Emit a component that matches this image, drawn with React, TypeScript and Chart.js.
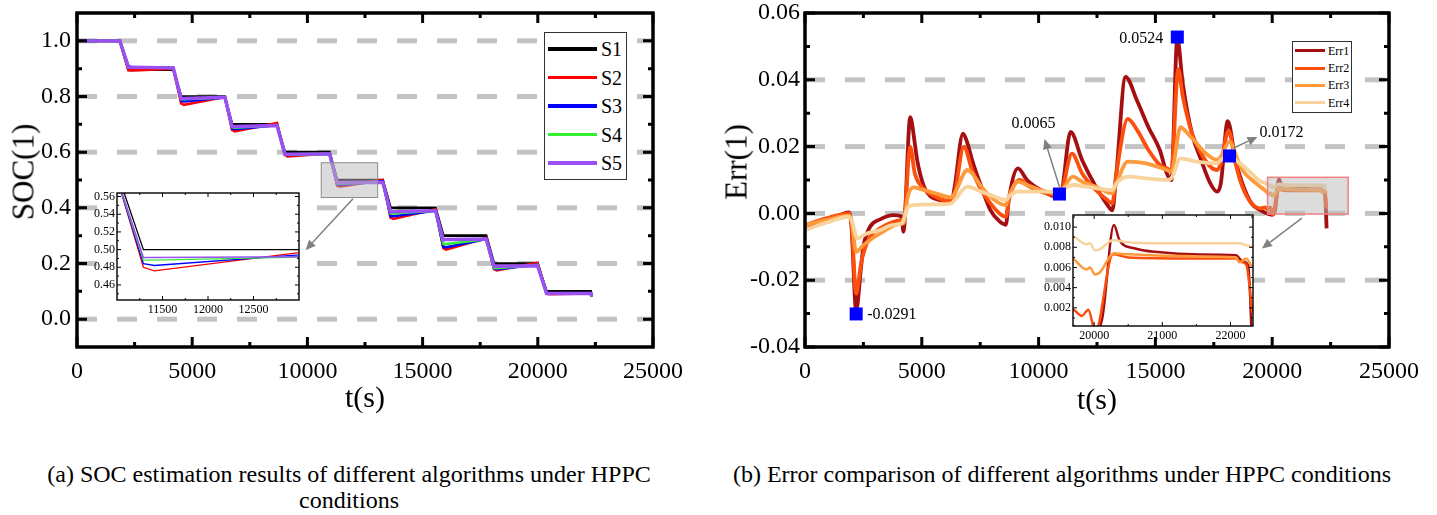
import React, { useEffect, useRef } from "react";
import { Chart, registerables } from "chart.js";

Chart.register(...registerables);

const SERIF = '"Liberation Serif", "Tinos", "Nimbus Roman", "Times New Roman", "DejaVu Serif", serif';

/* ---------------- (a) SOC estimation data ---------------- */
const socTime = [0, 1860, 2230, 2350, 4180, 4520, 4640, 6420, 6730, 6850, 8680, 9020, 9140, 10960, 11290, 11410, 13270, 13610, 13730, 15560, 15900, 16020, 17760, 18100, 18220, 19990, 20380, 20500, 22300, 22340];
const socS1 = [1.0, 1.0, 0.895, 0.895, 0.897, 0.8, 0.8, 0.8, 0.7, 0.7, 0.7, 0.6, 0.6, 0.6, 0.5, 0.5, 0.5, 0.4, 0.4, 0.4, 0.3, 0.3, 0.3, 0.2, 0.2, 0.2, 0.1, 0.1, 0.1, 0.085];
const socS2 = [1.0, 1.0, 0.895, 0.894, 0.9, 0.775, 0.77, 0.798, 0.68, 0.675, 0.705, 0.59, 0.585, 0.595, 0.48, 0.476, 0.5, 0.365, 0.36, 0.395, 0.255, 0.25, 0.292, 0.18, 0.175, 0.203, 0.092, 0.09, 0.092, 0.08];
const socS3 = [1.0, 1.0, 0.91, 0.905, 0.903, 0.785, 0.782, 0.797, 0.685, 0.683, 0.697, 0.592, 0.59, 0.594, 0.484, 0.482, 0.496, 0.37, 0.37, 0.39, 0.26, 0.258, 0.288, 0.182, 0.18, 0.196, 0.093, 0.092, 0.093, 0.08];
const socS4 = [1.0, 1.0, 0.905, 0.905, 0.903, 0.79, 0.79, 0.797, 0.69, 0.688, 0.697, 0.594, 0.592, 0.594, 0.488, 0.488, 0.492, 0.38, 0.38, 0.39, 0.27, 0.27, 0.287, 0.184, 0.183, 0.195, 0.093, 0.093, 0.093, 0.08];
const socS5 = [1.0, 1.0, 0.905, 0.905, 0.903, 0.792, 0.793, 0.797, 0.692, 0.692, 0.696, 0.593, 0.593, 0.594, 0.491, 0.491, 0.492, 0.385, 0.386, 0.39, 0.285, 0.286, 0.288, 0.19, 0.19, 0.192, 0.092, 0.092, 0.092, 0.082];
const socNames = ["S1", "S2", "S3", "S4", "S5"];
const socColors = ["#000000", "#ff0000", "#0000ff", "#33ee33", "#9b50f5"];

const socXTicks = [0, 5000, 10000, 15000, 20000, 25000];
const socXMinor = [2500, 7500, 12500, 17500, 22500];
const socYTicks = [0, 0.2, 0.4, 0.6, 0.8, 1.0];
const socYMinor = [0.1, 0.3, 0.5, 0.7, 0.9];
const socInsetXTicks = [11500, 12000, 12500];
const socInsetXMinor = [11250, 11750, 12250, 12750];
const socInsetYTicks = [0.46, 0.48, 0.5, 0.52, 0.54, 0.56];
const socInsetYMinor = [0.45, 0.47, 0.49, 0.51, 0.53, 0.55];
const socZoomBox = [10600, 13050, 0.437, 0.562];
const socArrow = [11980, 0.433, 9920, 0.248];

/* ---------------- (b) Error data ---------------- */
const err1Time = [0, 600, 1300, 1880, 1990, 2190, 2400, 2500, 2785, 3213, 3784, 4141, 4213, 4505, 4700, 4800, 5094, 5388, 5780, 6271, 6408, 6761, 6957, 7153, 7545, 7938, 8330, 8600, 8722, 9114, 9506, 10095, 10781, 10950, 11369, 11860, 12448, 12938, 13154, 13330, 13722, 14212, 14702, 15192, 15487, 15683, 15938, 16173, 16565, 16957, 17350, 17644, 17800, 18095, 18428, 18722, 19114, 19506, 19997, 20120, 20290, 20372, 20589, 20974, 21456, 22082, 22180, 22260, 22330];
const err1Val = [-0.005, -0.003, -0.0012, 0.0003, -0.004, -0.0291, -0.016, -0.01, -0.004, -0.0018, -0.0005, -0.001, -0.0055, 0.0288, 0.021, 0.016, 0.008, 0.005, 0.004, 0.0036, 0.008, 0.0239, 0.021, 0.016, 0.008, 0.001, -0.0024, -0.0034, 0.004, 0.0135, 0.01, 0.007, 0.005, 0.0055, 0.0244, 0.016, 0.008, 0.0026, 0.0009, 0.012, 0.0409, 0.0338, 0.0258, 0.0189, 0.012, 0.01, 0.0524, 0.0387, 0.0239, 0.016, 0.009, 0.0065, 0.009, 0.0276, 0.016, 0.009, 0.003, 0.0009, -0.0004, 0.001, 0.0102, 0.0087, 0.0079, 0.0075, 0.0073, 0.0072, 0.0066, 0.0062, -0.0045];
const err2Time = [0, 900, 1880, 1990, 2190, 2400, 2500, 2785, 3213, 3784, 4141, 4213, 4505, 4700, 4996, 5584, 6271, 6408, 6800, 7153, 7545, 7938, 8330, 8600, 8722, 9212, 9506, 10095, 10781, 10950, 11428, 11860, 12448, 12938, 13154, 13330, 13820, 14212, 14702, 15192, 15487, 15683, 15977, 16173, 16565, 16957, 17350, 17644, 17800, 18134, 18428, 18722, 19114, 19506, 19690, 19818, 19915, 19987, 20020, 20276, 20500, 21456, 22082, 22130, 22230, 22320];
const err2Val = [-0.0035, -0.0015, 0.0, -0.003, -0.024, -0.015, -0.012, -0.007, -0.0045, -0.0025, -0.002, -0.003, 0.0199, 0.012, 0.008, 0.005, 0.0036, 0.006, 0.0199, 0.013, 0.007, 0.003, 0.0, -0.001, 0.004, 0.01, 0.0085, 0.0065, 0.0055, 0.006, 0.0179, 0.012, 0.007, 0.004, 0.003, 0.012, 0.0283, 0.025, 0.019, 0.0145, 0.0135, 0.013, 0.0432, 0.035, 0.024, 0.018, 0.014, 0.013, 0.015, 0.0248, 0.015, 0.008, 0.003, 0.0015, 0.0018, 0.0012, 0.0018, 0.0002, -0.0003, 0.0073, 0.007, 0.0069, 0.0069, 0.0066, 0.0063, 0.0015];
const err3Time = [0, 900, 1880, 1990, 2190, 2500, 3213, 4141, 4213, 4400, 4640, 4996, 5584, 6271, 6408, 6957, 7153, 7545, 7938, 8330, 8600, 8722, 9114, 9506, 10095, 10781, 10950, 11467, 11860, 12448, 13154, 13330, 13820, 14604, 15487, 15683, 16075, 16369, 16761, 17153, 17644, 17800, 18173, 18526, 18722, 19310, 19690, 19890, 19939, 20011, 20083, 20290, 20500, 21456, 22082, 22130, 22230, 22320];
const err3Val = [-0.0035, -0.002, -0.0007, -0.002, -0.0115, -0.0095, -0.006, -0.003, -0.003, 0.005, 0.0078, 0.0072, 0.006, 0.0048, 0.006, 0.013, 0.012, 0.008, 0.005, 0.003, 0.0025, 0.005, 0.0095, 0.0085, 0.007, 0.006, 0.0065, 0.011, 0.0095, 0.008, 0.006, 0.009, 0.0155, 0.015, 0.013, 0.0125, 0.0258, 0.024, 0.021, 0.018, 0.016, 0.017, 0.0214, 0.016, 0.013, 0.009, 0.0069, 0.0058, 0.006, 0.0053, 0.0055, 0.0074, 0.0073, 0.0071, 0.007, 0.0065, 0.0069, 0.006];
const err4Time = [0, 900, 1880, 1990, 2250, 2642, 3213, 3700, 4141, 4213, 4400, 4640, 5584, 6271, 6408, 6957, 7545, 8134, 8600, 8722, 9114, 10095, 10893, 11000, 11467, 12056, 13154, 13330, 13820, 14604, 15487, 15683, 16075, 16761, 17644, 17800, 18173, 18526, 19114, 19506, 19690, 19890, 19939, 20011, 20083, 20276, 20493, 21000, 22138, 22227, 22320];
const err4Val = [-0.005, -0.0028, -0.001, -0.002, -0.0075, -0.006, -0.005, -0.0035, -0.003, -0.002, 0.0018, 0.0025, 0.0027, 0.003, 0.004, 0.008, 0.0065, 0.005, 0.004, 0.005, 0.0065, 0.0065, 0.0065, 0.007, 0.0085, 0.008, 0.007, 0.009, 0.011, 0.0105, 0.01, 0.0105, 0.0165, 0.0155, 0.015, 0.016, 0.0172, 0.0155, 0.012, 0.0095, 0.0091, 0.0083, 0.0084, 0.0077, 0.0078, 0.0087, 0.0085, 0.0084, 0.0084, 0.0082, 0.0081];
const errNames = ["Err1", "Err2", "Err3", "Err4"];
const errColors = ["#a50f12", "#fc4e0c", "#fd9a3c", "#f8d49c"];

const markTime = [2190, 10893, 15938, 18173];
const markVal = [-0.0301, 0.0058, 0.0528, 0.0172];
const markLabel = ["-0.0291", "0.0065", "0.0524", "0.0172"];

const errXTicks = [0, 5000, 10000, 15000, 20000, 25000];
const errXMinor = [2500, 7500, 12500, 17500, 22500];
const errYTicks = [-0.04, -0.02, 0, 0.02, 0.04, 0.06];
const errYMinor = [-0.03, -0.01, 0.01, 0.03, 0.05];
const errGrid = [-0.02, 0, 0.02, 0.04];
const errInsetXTicks = [20000, 21000, 22000];
const errInsetXMinor = [20500, 21500];
const errInsetYTicks = [0.002, 0.004, 0.006, 0.008, 0.01];
const errInsetYMinor = [0.001, 0.003, 0.005, 0.007, 0.009, 0.011];
const errZoomBox = [19800, 23250, -0.0002, 0.0108];
const errArrow = [21270, -0.0014, 19560, -0.0105];

/* ---------------- layout (pixels) ---------------- */
type Area = { left: number; top: number; right: number; bottom: number };
type Box = { left: number; top: number; w: number; h: number; area: Area };

const LEFT_MAIN: Box = { left: 0, top: 0, w: 720, h: 420, area: { left: 77, top: 13, right: 653, bottom: 347 } };
const RIGHT_MAIN: Box = { left: 720, top: 0, w: 717, h: 420, area: { left: 85, top: 13, right: 669, bottom: 347 } };
const LEFT_INSET: Box = { left: 80, top: 185, w: 230, h: 135, area: { left: 37, top: 8, right: 219, bottom: 115 } };
const RIGHT_INSET: Box = { left: 1030, top: 205, w: 235, h: 140, area: { left: 43, top: 10, right: 223, bottom: 121 } };

const markNotes: any[] = [
  { dx: 11, dy: 1, align: "left", arrow: null },
  { dx: -26, dy: -70, align: "center", arrow: [0, -7, -15, -55] },
  { dx: -14, dy: 2, align: "right", arrow: null },
  { dx: 30, dy: -23, align: "left", arrow: [4, -8, 28, -19] },
];

/* ---------------- helpers ---------------- */
function pts(xs: number[], ys: number[]) {
  const n = Math.min(xs.length, ys.length);
  const out: { x: number; y: number }[] = [];
  for (let i = 0; i < n; i++) out.push({ x: xs[i], y: ys[i] });
  return out;
}

function linearAxis(min: number, max: number, ticks: number[], fmt: (v: number) => string, size: number, pad: number, horizontal: boolean, fit: number) {
  return {
    type: "linear",
    min,
    max,
    grid: { display: false, drawTicks: false },
    border: { display: false },
    ticks: {
      font: { family: SERIF, size },
      color: "#000",
      padding: pad,
      autoSkip: false,
      maxRotation: 0,
      minRotation: 0,
      callback: (v: any) => fmt(Number(v)),
    },
    afterBuildTicks: (s: any) => {
      s.ticks = ticks.map((value) => ({ value }));
    },
    afterFit: (s: any) => {
      if (horizontal) s.height = fit;
      else s.width = fit;
      s.paddingLeft = 0;
      s.paddingRight = 0;
      s.paddingTop = 0;
      s.paddingBottom = 0;
    },
  };
}

function drawArrow(ctx: CanvasRenderingContext2D, x1: number, y1: number, x2: number, y2: number) {
  const a = Math.atan2(y2 - y1, x2 - x1);
  const hl = 10;
  const hw = 4.5;
  const bx = x2 - hl * Math.cos(a);
  const by = y2 - hl * Math.sin(a);
  ctx.save();
  ctx.strokeStyle = "#808080";
  ctx.fillStyle = "#808080";
  ctx.lineWidth = 1.5;
  ctx.setLineDash([]);
  ctx.beginPath();
  ctx.moveTo(x1, y1);
  ctx.lineTo(bx, by);
  ctx.stroke();
  ctx.beginPath();
  ctx.moveTo(x2, y2);
  ctx.lineTo(bx + hw * Math.sin(a), by - hw * Math.cos(a));
  ctx.lineTo(bx - hw * Math.sin(a), by + hw * Math.cos(a));
  ctx.closePath();
  ctx.fill();
  ctx.restore();
}

function makeDecor(o: any) {
  return {
    id: "decor",
    beforeDraw(chart: any) {
      if (!o.whiteArea) return;
      const { ctx, chartArea: a } = chart;
      ctx.save();
      ctx.fillStyle = "#fff";
      ctx.fillRect(a.left, a.top, a.right - a.left, a.bottom - a.top);
      ctx.restore();
    },
    beforeDatasetsDraw(chart: any) {
      if (!o.grid) return;
      const { ctx, chartArea: a } = chart;
      const y = chart.scales.y;
      ctx.save();
      ctx.strokeStyle = "#c3c3c3";
      ctx.lineWidth = 5;
      ctx.setLineDash([20, 20]);
      ctx.lineDashOffset = o.gridOffset || 0;
      for (const v of o.grid) {
        const py = y.getPixelForValue(v);
        ctx.beginPath();
        ctx.moveTo(a.left, py);
        ctx.lineTo(a.right, py);
        ctx.stroke();
      }
      ctx.restore();
    },
    afterDatasetsDraw(chart: any) {
      const { ctx, chartArea: a } = chart;
      const x = chart.scales.x;
      const y = chart.scales.y;
      ctx.save();
      if (o.box) {
        const [x0, x1, y0, y1] = o.box;
        const px0 = x.getPixelForValue(x0);
        const px1 = x.getPixelForValue(x1);
        const py0 = y.getPixelForValue(y1);
        const py1 = y.getPixelForValue(y0);
        ctx.fillStyle = o.boxFill;
        ctx.fillRect(px0, py0, px1 - px0, py1 - py0);
        ctx.strokeStyle = o.boxStroke;
        ctx.lineWidth = o.boxLine;
        ctx.strokeRect(px0, py0, px1 - px0, py1 - py0);
      }
      ctx.strokeStyle = "#000";
      ctx.lineWidth = o.frameWidth;
      ctx.strokeRect(a.left, a.top, a.right - a.left, a.bottom - a.top);
      ctx.lineWidth = o.tickWidth;
      ctx.lineCap = "butt";
      const xt = (vals: number[], len: number) => {
        for (const v of vals) {
          const px = x.getPixelForValue(v);
          ctx.beginPath();
          ctx.moveTo(px, a.bottom);
          ctx.lineTo(px, a.bottom - len);
          ctx.moveTo(px, a.top);
          ctx.lineTo(px, a.top + len);
          ctx.stroke();
        }
      };
      const yt = (vals: number[], len: number) => {
        for (const v of vals) {
          const py = y.getPixelForValue(v);
          ctx.beginPath();
          ctx.moveTo(a.left, py);
          ctx.lineTo(a.left + len, py);
          ctx.moveTo(a.right, py);
          ctx.lineTo(a.right - len, py);
          ctx.stroke();
        }
      };
      xt(o.xMajor, o.majorLen);
      xt(o.xMinor, o.minorLen);
      yt(o.yMajor, o.majorLen);
      yt(o.yMinor, o.minorLen);
      if (o.arrows) {
        for (const ar of o.arrows) {
          drawArrow(ctx, x.getPixelForValue(ar[0]), y.getPixelForValue(ar[1]), x.getPixelForValue(ar[2]), y.getPixelForValue(ar[3]));
        }
      }
      if (o.marks) {
        ctx.font = `16px ${SERIF}`;
        ctx.textBaseline = "middle";
        o.marks.t.forEach((t: number, i: number) => {
          const mx = x.getPixelForValue(t);
          const my = y.getPixelForValue(o.marks.v[i]);
          const n = o.marks.notes[i];
          if (n.arrow) drawArrow(ctx, mx + n.arrow[0], my + n.arrow[1], mx + n.arrow[2], my + n.arrow[3]);
          ctx.fillStyle = "#000";
          ctx.textAlign = n.align;
          ctx.fillText(o.marks.labels[i], mx + n.dx, my + n.dy);
        });
      }
      ctx.restore();
    },
  };
}

function makeConfig(box: Box, datasets: any[], xs: any, ys: any, decor: any) {
  return {
    type: "line",
    data: { datasets },
    options: {
      responsive: false,
      animation: false,
      devicePixelRatio: 1,
      events: [],
      layout: { padding: { left: 0, top: box.area.top, right: box.w - box.area.right, bottom: 0 } },
      plugins: { legend: { display: false }, tooltip: { enabled: false }, title: { display: false } },
      scales: { x: xs, y: ys },
      elements: { point: { radius: 0 } },
    },
    plugins: [makeDecor(decor)],
  };
}

const socSeries = [socS1, socS2, socS3, socS4, socS5];
const errTimes = [err1Time, err2Time, err3Time, err4Time];
const errVals = [err1Val, err2Val, err3Val, err4Val];

function socDatasets(widths: number[]) {
  return socSeries.map((vals, i) => ({
    label: socNames[i],
    data: pts(socTime, vals),
    borderColor: socColors[i],
    backgroundColor: socColors[i],
    borderWidth: widths[i],
    pointRadius: 0,
    tension: 0,
    fill: false,
    order: socSeries.length - i,
  }));
}

function errDatasets(width: number) {
  return errTimes.map((t, i) => ({
    label: errNames[i],
    data: pts(t, errVals[i]),
    borderColor: errColors[i],
    backgroundColor: errColors[i],
    borderWidth: width,
    pointRadius: 0,
    tension: 0.4,
    cubicInterpolationMode: "monotone",
    fill: false,
    order: errTimes.length - i,
  }));
}

const fmtInt = (v: number) => String(Math.round(v));

function buildSocMain() {
  const b = LEFT_MAIN;
  return makeConfig(
    b,
    socDatasets([2.6, 2.6, 2.6, 2.6, 3.4]),
    linearAxis(0, 25000, socXTicks, fmtInt, 24, 10, true, b.h - b.area.bottom),
    linearAxis(-0.1, 1.1, socYTicks, (v) => v.toFixed(1), 24, 6, false, b.area.left),
    {
      grid: socYTicks, gridOffset: 0, frameWidth: 3.5, tickWidth: 3, majorLen: 10, minorLen: 5,
      xMajor: socXTicks, xMinor: socXMinor, yMajor: socYTicks, yMinor: socYMinor,
      box: socZoomBox, boxFill: "rgba(185,185,185,0.5)", boxStroke: "#8c8c8c", boxLine: 1,
      arrows: [socArrow],
    }
  );
}

function buildSocInset() {
  const b = LEFT_INSET;
  return makeConfig(
    b,
    socDatasets([1.3, 1.3, 1.3, 1.3, 1.5]),
    linearAxis(11000, 13000, socInsetXTicks, fmtInt, 12, 3, true, b.h - b.area.bottom),
    linearAxis(0.443, 0.564, socInsetYTicks, (v) => v.toFixed(2), 12, 2, false, b.area.left),
    {
      whiteArea: true, frameWidth: 1.4, tickWidth: 1, majorLen: 4, minorLen: 2,
      xMajor: socInsetXTicks, xMinor: socInsetXMinor, yMajor: socInsetYTicks, yMinor: socInsetYMinor,
    }
  );
}

function buildErrMain() {
  const b = RIGHT_MAIN;
  const ds: any[] = errDatasets(3.8);
  ds.push({
    label: "marks",
    data: pts(markTime, markVal),
    showLine: false,
    pointStyle: "rect",
    pointRadius: 9.2,
    pointBackgroundColor: "#0000ff",
    pointBorderWidth: 0,
    borderColor: "#0000ff",
    backgroundColor: "#0000ff",
    order: -1,
  });
  return makeConfig(
    b,
    ds,
    linearAxis(0, 25000, errXTicks, fmtInt, 24, 10, true, b.h - b.area.bottom),
    linearAxis(-0.04, 0.06, errYTicks, (v) => v.toFixed(2), 24, 5, false, b.area.left),
    {
      grid: errGrid, gridOffset: 0, frameWidth: 3.5, tickWidth: 3, majorLen: 10, minorLen: 5,
      xMajor: errXTicks, xMinor: errXMinor, yMajor: errYTicks, yMinor: errYMinor,
      box: errZoomBox, boxFill: "rgba(185,185,185,0.5)", boxStroke: "#f08080", boxLine: 1.5,
      arrows: [errArrow],
      marks: { t: markTime, v: markVal, labels: markLabel, notes: markNotes },
    }
  );
}

function buildErrInset() {
  const b = RIGHT_INSET;
  return makeConfig(
    b,
    errDatasets(2.5),
    linearAxis(19690, 22330, errInsetXTicks, fmtInt, 12, 3, true, b.h - b.area.bottom),
    linearAxis(0.0002, 0.0112, errInsetYTicks, (v) => v.toFixed(3), 12, 2, false, b.area.left),
    {
      whiteArea: true, frameWidth: 1.4, tickWidth: 1, majorLen: 4, minorLen: 2,
      xMajor: errInsetXTicks, xMinor: errInsetXMinor, yMajor: errInsetYTicks, yMinor: errInsetYMinor,
    }
  );
}

function ChartCanvas({ box, build }: { box: Box; build: () => any }) {
  const ref = useRef<HTMLCanvasElement | null>(null);
  useEffect(() => {
    if (!ref.current) return;
    const chart = new Chart(ref.current, build() as any);
    return () => chart.destroy();
  }, []);
  return (
    <canvas
      ref={ref}
      width={box.w}
      height={box.h}
      style={{ position: "absolute", left: box.left, top: box.top, width: box.w, height: box.h }}
    />
  );
}

function Text({ x, y, size, rotate = 0, children }: { x: number; y: number; size: number; rotate?: number; children: any }) {
  return (
    <div
      style={{
        position: "absolute",
        left: x,
        top: y,
        transform: `translate(-50%, -50%) rotate(${rotate}deg)`,
        fontFamily: SERIF,
        fontSize: size,
        lineHeight: 1,
        whiteSpace: "nowrap",
        color: "#000",
      }}
    >
      {children}
    </div>
  );
}

function Legend({ left, top, w, h, rows, lineX, lineW, textX, size, names, colors, widths }: any) {
  return (
    <div
      style={{
        position: "absolute",
        left,
        top,
        width: w,
        height: h,
        boxSizing: "border-box",
        border: "1.3px solid #333",
        background: "#fff",
      }}
    >
      {names.map((n: string, i: number) => (
        <React.Fragment key={n}>
          <div
            style={{
              position: "absolute",
              left: lineX,
              top: rows[i] - widths[i] / 2,
              width: lineW,
              height: widths[i],
              background: colors[i],
            }}
          />
          <div
            style={{
              position: "absolute",
              left: textX,
              top: rows[i],
              transform: "translateY(-50%)",
              fontFamily: SERIF,
              fontSize: size,
              lineHeight: 1,
              whiteSpace: "nowrap",
              color: "#000",
            }}
          >
            {n}
          </div>
        </React.Fragment>
      ))}
    </div>
  );
}

export default function App() {
  return (
    <div style={{ position: "absolute", left: 0, top: 0, width: 1437, height: 515, background: "#fff", overflow: "hidden" }}>
      <ChartCanvas box={LEFT_MAIN} build={buildSocMain} />
      <ChartCanvas box={RIGHT_MAIN} build={buildErrMain} />
      <ChartCanvas box={LEFT_INSET} build={buildSocInset} />
      <ChartCanvas box={RIGHT_INSET} build={buildErrInset} />

      <Legend
        left={544} top={32} w={83} h={148}
        rows={[16, 44.5, 73, 101.5, 130]} lineX={3} lineW={49} textX={56} size={20}
        names={socNames} colors={socColors} widths={[3.2, 3.2, 3.2, 3.2, 4]}
      />
      <Legend
        left={1292} top={41} w={60} h={72}
        rows={[8.5, 26, 43, 60.5]} lineX={1.5} lineW={30} textX={35} size={12}
        names={errNames} colors={errColors} widths={[3, 3, 3, 3]}
      />

      <Text x={23} y={172} size={31} rotate={-90}>SOC(1)</Text>
      <Text x={365} y={397} size={30}>t(s)</Text>
      <Text x={736} y={162} size={31} rotate={-90}>Err(1)</Text>
      <Text x={1097} y={399} size={30}>t(s)</Text>

      <div style={{ position: "absolute", left: 0, top: 461, width: 698, textAlign: "center", fontFamily: SERIF, fontSize: 24, lineHeight: "26px", color: "#000", whiteSpace: "nowrap" }}>
        (a) SOC estimation results of different algorithms under HPPC
        <br />
        conditions
      </div>
      <div style={{ position: "absolute", left: 662, top: 461, width: 800, textAlign: "center", fontFamily: SERIF, fontSize: 24, lineHeight: "26px", color: "#000", whiteSpace: "nowrap" }}>
        (b) Error comparison of different algorithms under HPPC conditions
      </div>
    </div>
  );
}
